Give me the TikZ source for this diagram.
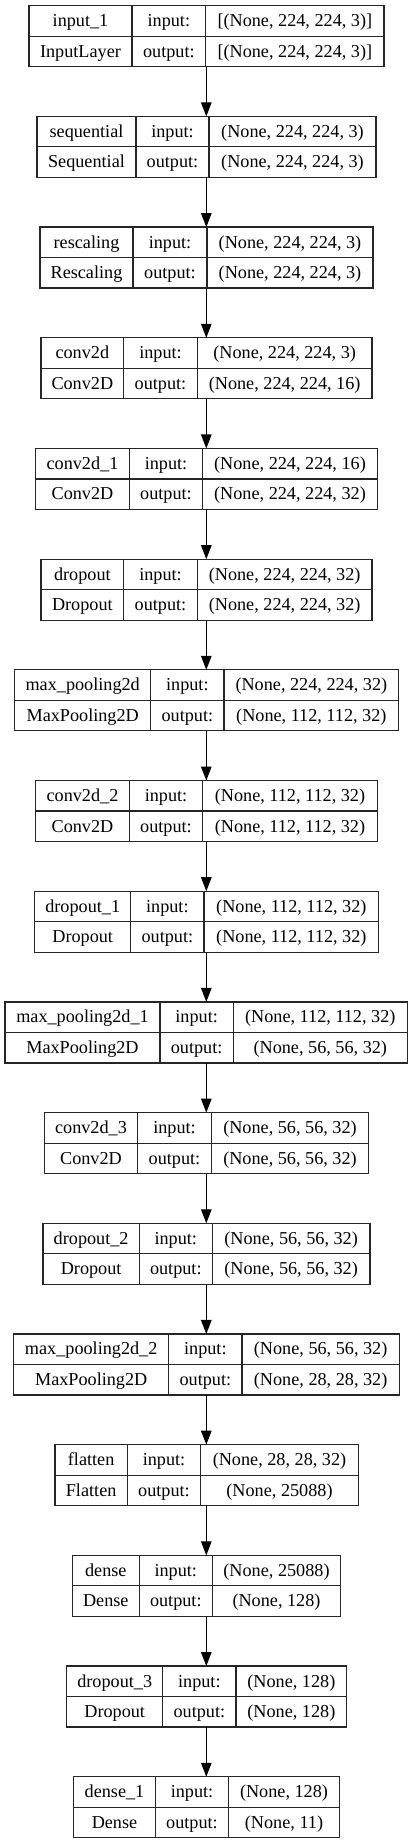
\documentclass[tikz,border=0pt]{standalone}
\usepackage{fontspec}
\setmainfont{Liberation Serif}
\usetikzlibrary{arrows.meta}

% one layer: index, left, 1st split, 2nd split, right, name, type, input, output
\newcommand{\layerbox}[9]{%
    \pgfmathsetmacro{\layertop}{5.7+#1*110.69}
    \pgfmathsetmacro{\layerw}{#5-#2}
    \node[layer frame, minimum width=\layerw pt, anchor=north west] (L#1) at (#2,\layertop) {};
    \draw[cell line] (L#1.west) -- (L#1.east);
    \draw[cell line] (#3,\layertop) -- (#3,\layertop+61);
    \draw[cell line] (#4,\layertop) -- (#4,\layertop+61);
    \node[cell text] (L#1a) at ({(#2+#3)/2},\layertop+21) {#6};
    \node[cell text] (L#1b) at ({(#3+#4)/2},\layertop+21) {input:};
    \node[cell text] (L#1c) at ({(#4+#5)/2},\layertop+21) {#8};
    \node[cell text] (L#1d) at ({(#2+#3)/2},\layertop+51.5) {#7};
    \node[cell text] (L#1e) at ({(#3+#4)/2},\layertop+51.5) {output:};
    \node[cell text] (L#1f) at ({(#4+#5)/2},\layertop+51.5) {#9};
}

\begin{document}
\begin{tikzpicture}[
    x=1pt, y=-1pt,
    layer frame/.style={draw=black!85, line width=1.2pt, minimum height=61pt, inner sep=0pt, outer sep=0pt},
    cell line/.style={draw=black!85, line width=1.2pt},
    cell text/.style={font=\fontsize{18.2}{22}\selectfont, inner sep=0pt, anchor=base},
    flow arrow/.style={line width=1.2pt, -{Triangle[width=10.5pt,length=14pt]}},
    every node/.style={color=black}
    ]
    \useasboundingbox (0,0) rectangle (413,1844);

    % layers
    \layerbox{0}{29}{132}{205.7}{384}{input\_1}{InputLayer}{[(None, 224, 224, 3)]}{[(None, 224, 224, 3)]}
    \layerbox{1}{37}{136}{209}{376}{sequential}{Sequential}{(None, 224, 224, 3)}{(None, 224, 224, 3)}
    \layerbox{2}{40}{133}{207}{373}{rescaling}{Rescaling}{(None, 224, 224, 3)}{(None, 224, 224, 3)}
    \layerbox{3}{41}{123.7}{197.3}{372}{conv2d}{Conv2D}{(None, 224, 224, 3)}{(None, 224, 224, 16)}
    \layerbox{4}{35.7}{129.3}{202.7}{377.3}{conv2d\_1}{Conv2D}{(None, 224, 224, 16)}{(None, 224, 224, 32)}
    \layerbox{5}{41}{123.7}{197.3}{372}{dropout}{Dropout}{(None, 224, 224, 32)}{(None, 224, 224, 32)}
    \layerbox{6}{14.7}{150.7}{224}{398.7}{max\_pooling2d}{MaxPooling2D}{(None, 224, 224, 32)}{(None, 112, 112, 32)}
    \layerbox{7}{35.7}{129.3}{202.7}{377.3}{conv2d\_2}{Conv2D}{(None, 112, 112, 32)}{(None, 112, 112, 32)}
    \layerbox{8}{34.7}{130.7}{204}{378.7}{dropout\_1}{Dropout}{(None, 112, 112, 32)}{(None, 112, 112, 32)}
    \layerbox{9}{5}{160}{233.3}{407.3}{max\_pooling2d\_1}{MaxPooling2D}{(None, 112, 112, 32)}{(None, 56, 56, 32)}
    \layerbox{10}{44.3}{137.7}{211.3}{368.7}{conv2d\_3}{Conv2D}{(None, 56, 56, 32)}{(None, 56, 56, 32)}
    \layerbox{11}{43}{139.3}{212.3}{370}{dropout\_2}{Dropout}{(None, 56, 56, 32)}{(None, 56, 56, 32)}
    \layerbox{12}{13.7}{168.7}{242}{399.3}{max\_pooling2d\_2}{MaxPooling2D}{(None, 56, 56, 32)}{(None, 28, 28, 32)}
    \layerbox{13}{55}{127.3}{200.7}{358.3}{flatten}{Flatten}{(None, 28, 28, 32)}{(None, 25088)}
    \layerbox{14}{72.3}{139.3}{212.3}{340.7}{dense}{Dense}{(None, 25088)}{(None, 128)}
    \layerbox{15}{66.7}{162.7}{236}{346.7}{dropout\_3}{Dropout}{(None, 128)}{(None, 128)}
    \layerbox{16}{73.7}{155.3}{228.7}{339.3}{dense\_1}{Dense}{(None, 128)}{(None, 11)}

    % arrows
    \coordinate (flow) at (206.3,0);
    \foreach \i [count=\j] in {0,...,15}
        \draw[flow arrow] (L\i.south -| flow) -- (L\j.north -| flow);
\end{tikzpicture}
\end{document}
